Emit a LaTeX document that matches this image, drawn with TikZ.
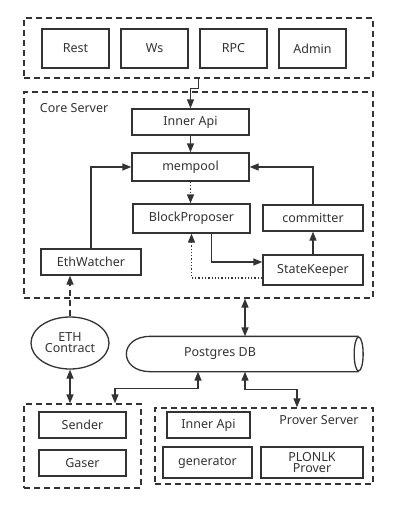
\documentclass[tikz,border=0pt]{standalone}
\usepackage{fontspec}
\setmainfont{Noto Sans}
\usepackage{tikz}
\usetikzlibrary{positioning}
\usetikzlibrary{arrows.meta}
\usetikzlibrary{shapes,calc}
\definecolor{mygray}{RGB}{51,51,51}

\begin{document}
\begin{tikzpicture}[x=1pt,y=-1pt,font=\fontsize{12.5}{14}\selectfont,
	    color=mygray, line width=1.3pt,
	    >={Stealth[length=9pt,width=7pt,inset=0pt]}]
	\useasboundingbox (0,0) rectangle (408,507);

	% dashed groups
	\begin{scope}[every node/.style={draw,rectangle,dashed,dash pattern=on 6pt off 4pt,inner sep=0}]
	    \node (api) at (198.5,48) [minimum width=349,minimum height=60] {};
	    \node (core) at (198.5,195) [minimum width=349,minimum height=206] {};
	    \node (eth1) at (82.5,446) [minimum width=117,minimum height=84] {};
	    \node (prover) at (264,446) [minimum width=218,minimum height=76] {};
	\end{scope}
	\node (corelabel) [anchor=west] at (36,108) {Core Server};
	\node (proverlabel) at (319,420) {Prover Server};

	\begin{scope}[every node/.style={draw,rectangle,inner sep=0,align=center}]
	    \node (rest) at (75.5,48.5) [minimum width=67,minimum height=39] {Rest};
	    \node (ws) at (154.5,48.5) [minimum width=67,minimum height=39] {Ws};
	    \node (rpc) at (233.5,48.5) [minimum width=67,minimum height=39] {RPC};
	    \node (admin) at (312.5,48.5) [minimum width=67,minimum height=39] {Admin};
	    \node (inner) at (190.5,122) [minimum width=117,minimum height=26] {Inner Api};
	    \node (mempool) at (190.5,167) [minimum width=117,minimum height=28] {mempool};
	    \node (bp) at (191.5,218.5) [minimum width=117,minimum height=29] {BlockProposer};
	    \node (committer) at (313,218) [minimum width=100,minimum height=26] {committer};
	    \node (sk) at (313,270) [minimum width=100,minimum height=30] {StateKeeper};
	    \node (ethw) at (91,262) [minimum width=100,minimum height=26] {EthWatcher};
	    \node (sender) at (82.5,425) [minimum width=87,minimum height=26] {Sender};
	    \node (gaser) at (82.5,463) [minimum width=87,minimum height=26] {Gaser};
	    \node (pinner) at (208.5,425) [minimum width=83,minimum height=26] {Inner Api};
	    \node (generator) at (207.5,462.5) [minimum width=89,minimum height=31] {generator};
	    \node (plonk) at (312,462.5) [minimum width=102,minimum height=31] {PLONLK\\[-3pt]Prover};
	    \node (eth) at (70,343) [ellipse,minimum width=78,minimum height=52] {ETH\\[-3pt]Contract};
	\end{scope}

	% Postgres cylinder
	\node (db) at (244,354) [minimum width=238,minimum height=34,inner sep=0] {};
	\node (dblabel) at ([xshift=-24pt]db.center) {Postgres DB};
	\draw ([xshift=-5pt]db.north east) -- ([xshift=26pt]db.north west)
	    .. controls ([xshift=-6pt]db.north west) and ([xshift=-6pt]db.south west) .. ([xshift=26pt]db.south west)
	    -- ([xshift=-5pt]db.south east);
	\draw ([xshift=-5pt]db.east) ellipse (4.5 and 17);

	% connectors
	\draw [->] (api.south) -- ++(0,10) -| (inner.north);
	\path [->] (inner) edge (mempool);
	\draw [->,dotted] (mempool.south) -- (mempool.south |- bp.north);
	\draw [->] (ethw.north) |- (mempool.west);
	\draw [->] (committer.north) |- (mempool.east);
	\path [->] (sk) edge (committer);
	\draw [->] ([xshift=20pt]bp.south) |- ([yshift=8pt]sk.west);
	\draw [->,dotted] ([yshift=-8pt]sk.west) -| (bp.south);
	\draw [<->] ([xshift=1pt]db.north |- core.south) -- ([xshift=1pt]db.north);
	\draw [->,dashed,dash pattern=on 6pt off 4pt] (eth.north) -- (eth.north |- ethw.south);
	\draw [<->] (eth.south) -- (eth.south |- eth1.north);
	\draw [<->] ([xshift=-46pt]db.south) -- ++(0,17) -| ([xshift=32.5pt]eth1.north);
	\draw [<->] ([xshift=1pt]db.south) -- ++(0,18) -| ([xshift=33pt]prover.north);
\end{tikzpicture}
\end{document}
